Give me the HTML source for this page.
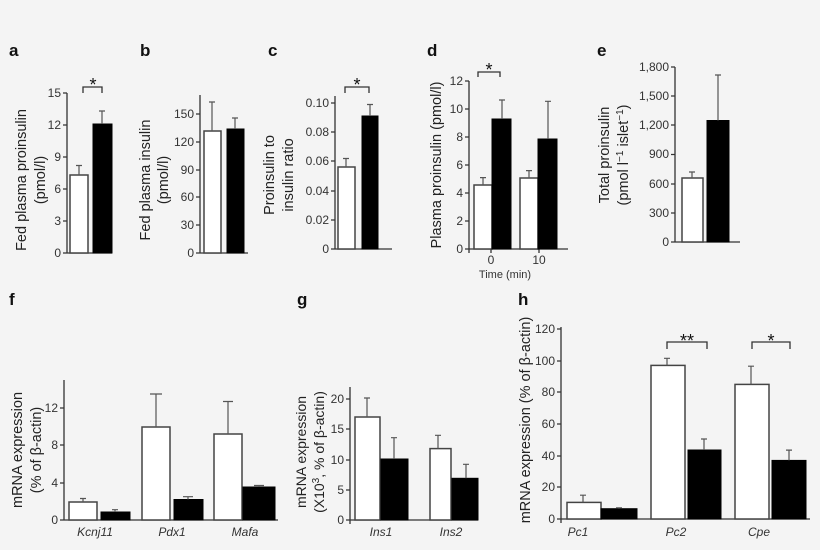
<!DOCTYPE html>
<html><head><meta charset="utf-8"><style>
body{margin:0;background:#f4f4f4}
svg{display:block;font-family:"Liberation Sans",sans-serif}
.t{font-size:12px;fill:#333;text-anchor:end}
.l{font-size:14.5px;fill:#222;text-anchor:middle}
.p{font-size:17px;font-weight:bold;fill:#111}
.x{font-size:12px;fill:#333;text-anchor:middle;font-style:italic}
.ax{stroke:#333;stroke-width:1.3;fill:none}
.w{fill:#fff;stroke:#444;stroke-width:1.5}
.b{fill:#000;stroke:#000;stroke-width:1}
.e{stroke:#555;stroke-width:1.2}
.s{font-size:18px;text-anchor:middle;fill:#111}
</style></head><body>
<svg width="820" height="550" viewBox="0 0 820 550">
<!-- a -->
<text class="p" x="9" y="56">a</text>
<path class="ax" d="M67,93V253H112M63,93H67M63,125H67M63,157H67M63,189H67M63,221H67M63,253H67"/>
<g class="t"><text x="61" y="97">15</text><text x="61" y="129">12</text><text x="61" y="161">9</text><text x="61" y="193">6</text><text x="61" y="225">3</text><text x="61" y="257">0</text></g>
<rect class="w" x="70" y="175" width="18" height="78"/><rect class="b" x="93" y="124" width="19" height="129"/>
<path class="e" d="M79,175V165.5M76,165.5H82M102,124V111M99,111H105"/>
<path class="ax" d="M83,93V87H102V93"/><text class="s" x="93" y="91">*</text>
<text class="l" transform="translate(26,180) rotate(-90)">Fed plasma proinsulin</text>
<text class="l" transform="translate(45,180) rotate(-90)">(pmol/l)</text>
<!-- b -->
<text class="p" x="140" y="56">b</text>
<path class="ax" d="M200,95V253H248M196,114H200M196,142H200M196,170H200M196,197H200M196,225H200M196,253H200"/>
<g class="t"><text x="194" y="118">150</text><text x="194" y="146">120</text><text x="194" y="174">90</text><text x="194" y="201">60</text><text x="194" y="229">30</text><text x="194" y="257">0</text></g>
<rect class="w" x="204" y="131" width="17" height="122"/><rect class="b" x="227" y="129" width="17" height="124"/>
<path class="e" d="M212,131V102M209,102H215M235,129V118M232,118H238"/>
<text class="l" transform="translate(150,180) rotate(-90)">Fed plasma insulin</text>
<text class="l" transform="translate(168,180) rotate(-90)">(pmol/l)</text>
<!-- c -->
<text class="p" x="268" y="56">c</text>
<path class="ax" d="M335,96V249H392M331,103H335M331,132H335M331,161H335M331,191H335M331,220H335M331,249H335"/>
<g class="t"><text x="329" y="107">0.10</text><text x="329" y="136">0.08</text><text x="329" y="165">0.06</text><text x="329" y="195">0.04</text><text x="329" y="224">0.02</text><text x="329" y="253">0</text></g>
<rect class="w" x="338" y="167" width="17" height="82"/><rect class="b" x="362" y="116" width="16" height="133"/>
<path class="e" d="M346,167V158.5M343,158.5H349M370,116V104.5M367,104.5H373"/>
<path class="ax" d="M345,93V87H369V93"/><text class="s" x="357" y="91">*</text>
<text class="l" transform="translate(274,175) rotate(-90)">Proinsulin to</text>
<text class="l" transform="translate(293,175) rotate(-90)">insulin ratio</text>
<!-- d -->
<text class="p" x="427" y="56">d</text>
<path class="ax" d="M469,81V253M469,249H568M465,81H469M465,109H469M465,137H469M465,165H469M465,193H469M465,221H469M465,249H469M491,249V253M539,249V253"/>
<g class="t"><text x="463" y="85">12</text><text x="463" y="113">10</text><text x="463" y="141">8</text><text x="463" y="169">6</text><text x="463" y="197">4</text><text x="463" y="225">2</text><text x="463" y="253">0</text></g>
<rect class="w" x="474" y="185" width="18" height="64"/><rect class="b" x="492" y="119" width="19" height="130"/>
<rect class="w" x="520" y="178" width="18" height="71"/><rect class="b" x="538" y="139" width="19" height="110"/>
<path class="e" d="M483,185V177.6M480,177.6H486M502,119V100M499,100H505M529,178V170.6M526,170.6H532M548,139V101.3M545,101.3H551"/>
<path class="ax" d="M478,77V72H500V77"/><text class="s" x="489" y="76">*</text>
<text x="491" y="264" style="font-size:12px;text-anchor:middle;fill:#333">0</text>
<text x="539" y="264" style="font-size:12px;text-anchor:middle;fill:#333">10</text>
<text x="505" y="278" style="font-size:11px;text-anchor:middle;fill:#333">Time (min)</text>
<text class="l" transform="translate(441,165) rotate(-90)">Plasma proinsulin (pmol/l)</text>
<!-- e -->
<text class="p" x="597" y="56">e</text>
<path class="ax" d="M675,67V242H740M671,67H675M671,96H675M671,125H675M671,154.5H675M671,184H675M671,213H675M671,242H675"/>
<g class="t"><text x="669" y="71">1,800</text><text x="669" y="100">1,500</text><text x="669" y="129">1,200</text><text x="669" y="158">900</text><text x="669" y="188">600</text><text x="669" y="217">300</text><text x="669" y="246">0</text></g>
<rect class="w" x="682" y="178" width="21" height="64"/><rect class="b" x="707" y="120.5" width="22" height="121.5"/>
<path class="e" d="M692,178V172M689,172H695M718,120.5V75M715,75H721"/>
<text class="l" transform="translate(609,155) rotate(-90)">Total proinsulin</text>
<text class="l" transform="translate(628,155) rotate(-90)">(pmol l<tspan dy="-5" font-size="10">−1</tspan><tspan dy="5"> islet</tspan><tspan dy="-5" font-size="10">−1</tspan><tspan dy="5">)</tspan></text>
<!-- f -->
<text class="p" x="9" y="305">f</text>
<path class="ax" d="M64,380V520H278M60,408H64M60,445H64M60,483H64M60,520H64"/>
<g class="t"><text x="58" y="412">12</text><text x="58" y="449">8</text><text x="58" y="487">4</text><text x="58" y="524">0</text></g>
<rect class="w" x="69" y="502" width="28" height="18"/><rect class="b" x="101" y="512" width="29" height="8"/>
<rect class="w" x="142" y="427" width="28" height="93"/><rect class="b" x="174" y="499.5" width="29" height="20.5"/>
<rect class="w" x="214" y="434" width="28" height="86"/><rect class="b" x="243" y="487" width="32" height="33"/>
<path class="e" d="M83,502V498.5M80,498.5H86M115,512V509.7M112,509.7H118M156,427V394M150,394H162M188,499.5V496.7M183,496.7H193M228,434V401.5M223,401.5H233M259,487V485.5M254,485.5H264"/>
<g class="x"><text x="95" y="536">Kcnj11</text><text x="172" y="536">Pdx1</text><text x="245" y="536">Mafa</text></g>
<text class="l" transform="translate(22,450) rotate(-90)">mRNA expression</text>
<text class="l" transform="translate(41,450) rotate(-90)">(% of β-actin)</text>
<!-- g -->
<text class="p" x="297" y="305">g</text>
<path class="ax" d="M350,387V524M350,520H478M346,399H350M346,429H350M346,460H350M346,490H350M346,520H350"/>
<g class="t"><text x="344" y="403">20</text><text x="344" y="433">15</text><text x="344" y="464">10</text><text x="344" y="494">5</text><text x="344" y="524">0</text></g>
<rect class="w" x="355" y="417" width="25" height="103"/><rect class="b" x="381" y="459" width="27" height="61"/>
<rect class="w" x="430" y="448.6" width="21" height="71.4"/><rect class="b" x="452" y="478.3" width="26" height="41.7"/>
<path class="e" d="M367,417V398M364,398H370M394,459V437.7M391,437.7H397M438,448.6V435.3M435,435.3H441M466,478.3V464.3M463,464.3H469"/>
<g class="x"><text x="381" y="536">Ins1</text><text x="451" y="536">Ins2</text></g>
<text class="l" style="font-size:14px" transform="translate(306,452) rotate(-90)">mRNA expression</text>
<text class="l" style="font-size:14px" transform="translate(324,452) rotate(-90)">(X10<tspan dy="-5" font-size="10">3</tspan><tspan dy="5">, % of β-actin)</tspan></text>
<!-- h -->
<text class="p" x="518" y="305">h</text>
<path class="ax" d="M561,327V523M561,519H810M557,329H561M557,361H561M557,392H561M557,424H561M557,456H561M557,487H561M557,519H561"/>
<g class="t"><text x="555" y="333">120</text><text x="555" y="365">100</text><text x="555" y="396">80</text><text x="555" y="428">60</text><text x="555" y="460">40</text><text x="555" y="491">20</text><text x="555" y="523">0</text></g>
<rect class="w" x="567" y="502.4" width="34" height="16.6"/><rect class="b" x="601" y="508.7" width="36" height="10.3"/>
<rect class="w" x="651" y="365.4" width="34" height="153.6"/><rect class="b" x="688" y="450" width="33" height="69"/>
<rect class="w" x="735" y="384.4" width="34" height="134.6"/><rect class="b" x="772" y="460.4" width="34" height="58.6"/>
<path class="e" d="M583,502.4V495.2M580,495.2H586M619,508.7V507.9M616,507.9H622M667,365.4V358.3M664,358.3H670M704,450V439M701,439H707M751,384.4V366.2M748,366.2H754M789,460.4V450.1M786,450.1H792"/>
<path class="ax" d="M667,349V342H707V349M752,349V342H790V349"/>
<text class="s" x="687" y="347">**</text>
<text class="s" x="771" y="347">*</text>
<g class="x"><text x="578" y="536">Pc1</text><text x="676" y="536">Pc2</text><text x="759" y="536">Cpe</text></g>
<text class="l" transform="translate(530,420) rotate(-90)">mRNA expression (% of β-actin)</text>
</svg>
</body></html>
